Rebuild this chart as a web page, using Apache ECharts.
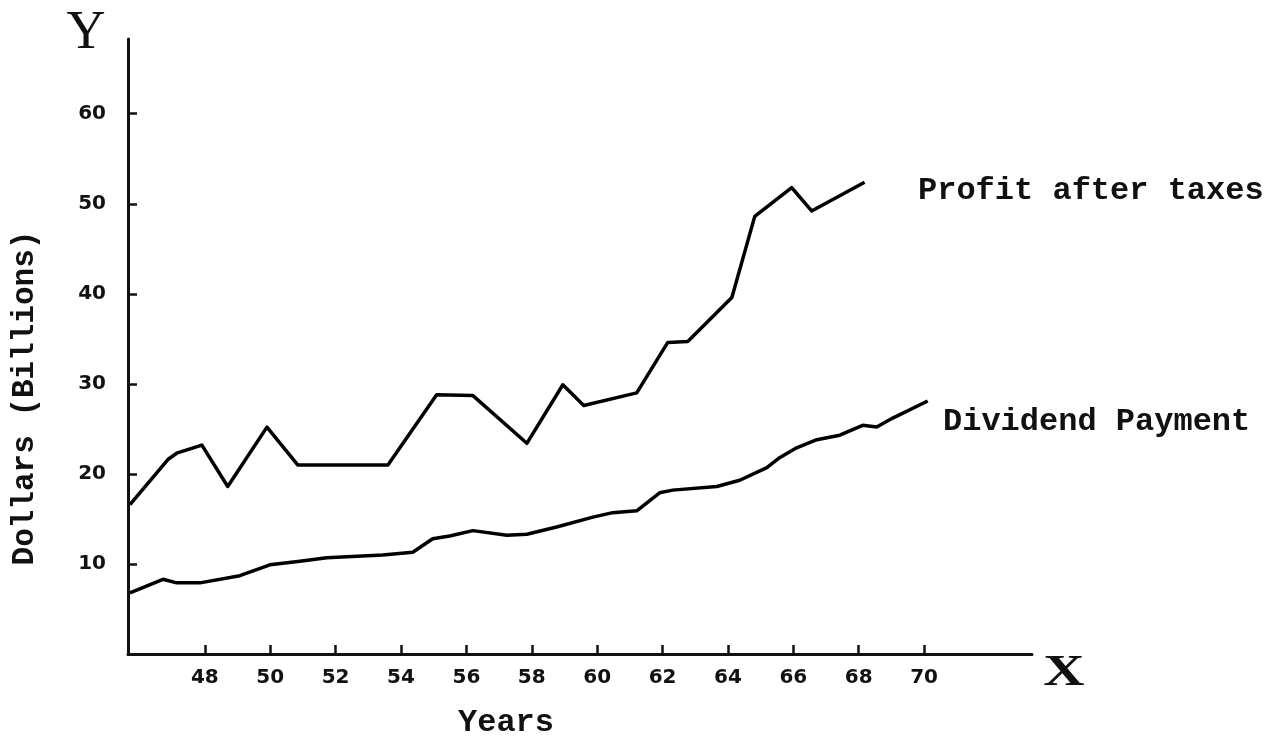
<!DOCTYPE html>
<html>
<head>
<meta charset="utf-8">
<script src="https://cdn.jsdelivr.net/npm/echarts@6/dist/echarts.min.js"></script>
<style>
html,body{margin:0;padding:0;background:#fff;}
#chart{width:1278px;height:741px;}
</style>
</head>
<body>
<div id="chart"></div>
<script>
// ---- Data ----
var profitYears  = [45.71, 46.87, 47.14, 47.91, 48.70, 49.90, 50.84, 53.60, 55.09, 56.20, 57.85, 58.95, 59.59, 61.21, 62.16, 62.77, 64.12, 64.82, 65.95, 66.56, 68.18];
var profitValues = [16.6, 21.6, 22.3, 23.2, 18.6, 25.2, 21.0, 21.0, 28.8, 28.7, 23.4, 29.9, 27.6, 29.0, 34.6, 34.7, 39.6, 48.6, 51.8, 49.2, 52.4];

var dividendYears  = [45.71, 46.72, 47.14, 47.85, 49.07, 49.99, 50.91, 51.73, 53.44, 54.36, 54.97, 55.49, 56.20, 57.24, 57.85, 58.76, 59.87, 60.48, 61.21, 61.91, 62.31, 63.66, 64.36, 65.19, 65.58, 66.10, 66.72, 67.42, 68.12, 68.55, 69.04, 70.11];
var dividendValues = [6.8, 8.3, 7.9, 7.9, 8.7, 9.9, 10.3, 10.7, 11.0, 11.3, 12.8, 13.1, 13.7, 13.2, 13.3, 14.1, 15.2, 15.7, 15.9, 17.9, 18.2, 18.6, 19.3, 20.7, 21.8, 22.9, 23.8, 24.3, 25.4, 25.2, 26.2, 28.1];

var xTickValues = [48, 50, 52, 54, 56, 58, 60, 62, 64, 66, 68, 70];
var xTickLabels = ['48', '50', '52', '54', '56', '58', '60', '62', '64', '66', '68', '70'];
var yTickValues = [10, 20, 30, 40, 50, 60];
var yTickLabels = ['10', '20', '30', '40', '50', '60'];

var seriesNames = ['Profit after taxes', 'Dividend Payment'];

function pairs(xs, ys) {
  var out = [];
  for (var i = 0; i < xs.length; i++) out.push([xs[i], ys[i]]);
  return out;
}

var typeFont = '"Liberation Mono", "DejaVu Sans Mono", monospace';

var chart = echarts.init(document.getElementById('chart'), null, {renderer: 'canvas'});
chart.setOption({
  backgroundColor: '#ffffff',
  animation: false,
  grid: {left: 128, right: 246, top: 39, bottom: 87},
  xAxis: {
    type: 'value',
    min: 45.65,
    max: 73.3,
    axisLine: {show: true, lineStyle: {color: '#111', width: 3}},
    axisTick: {
      show: true, inside: true, length: 9,
      customValues: xTickValues,
      lineStyle: {color: '#111', width: 2.5}
    },
    axisLabel: {
      show: true, margin: 14,
      customValues: xTickValues,
      color: '#111', fontSize: 20, fontWeight: 'bold',
      fontFamily: '"DejaVu Sans", sans-serif',
      formatter: function (v) {
        var i = xTickValues.indexOf(v);
        return i >= 0 ? xTickLabels[i] : '';
      }
    },
    splitLine: {show: false}
  },
  yAxis: {
    type: 'value',
    min: 0,
    max: 68.3,
    axisLine: {show: true, lineStyle: {color: '#111', width: 3}},
    axisTick: {
      show: true, inside: true, length: 9,
      customValues: yTickValues,
      lineStyle: {color: '#111', width: 2.5}
    },
    axisLabel: {
      show: true, margin: 22,
      customValues: yTickValues,
      color: '#111', fontSize: 20, fontWeight: 'bold',
      fontFamily: '"DejaVu Sans", sans-serif',
      formatter: function (v) {
        var i = yTickValues.indexOf(v);
        return i >= 0 ? yTickLabels[i] : '';
      }
    },
    splitLine: {show: false}
  },
  series: [
    {
      name: seriesNames[0],
      type: 'line',
      data: pairs(profitYears, profitValues),
      showSymbol: false,
      lineStyle: {color: '#000', width: 3.5, join: 'round'}
    },
    {
      name: seriesNames[1],
      type: 'line',
      data: pairs(dividendYears, dividendValues),
      showSymbol: false,
      lineStyle: {color: '#000', width: 3.5, join: 'round'}
    }
  ],
  graphic: [
    {
      type: 'text', left: 918, top: 175,
      style: {text: seriesNames[0], fill: '#111', font: 'bold 32px ' + typeFont}
    },
    {
      type: 'text', left: 943, top: 406,
      style: {text: seriesNames[1], fill: '#111', font: 'bold 32px ' + typeFont}
    },
    {
      type: 'text', x: 25, y: 398, rotation: Math.PI / 2,
      style: {text: 'Dollars (Billions)', fill: '#111', font: 'bold 31px ' + typeFont, align: 'center', verticalAlign: 'middle'}
    },
    {
      type: 'text', x: 506, y: 723,
      style: {text: 'Years', fill: '#111', font: 'bold 32px ' + typeFont, align: 'center', verticalAlign: 'middle'}
    },
    {
      type: 'text', x: 86, y: 34,
      style: {text: 'Y', fill: '#111', font: '54px "Liberation Serif", serif', align: 'center', verticalAlign: 'middle'}
    },
    {
      type: 'text', x: 1064, y: 674, scaleX: 1.3,
      style: {text: 'X', fill: '#111', font: 'bold 44px "Liberation Serif", serif', align: 'center', verticalAlign: 'middle'}
    }
  ]
});
</script>
</body>
</html>
